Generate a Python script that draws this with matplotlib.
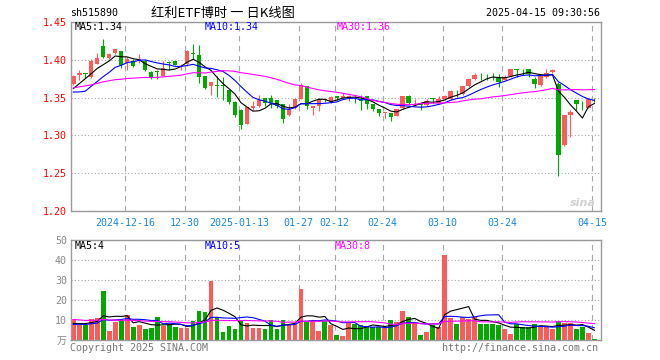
import numpy as np
import pandas as pd
import matplotlib
matplotlib.use('Agg')
import matplotlib.pyplot as plt

# trading days 2024-12-03 .. 2025-04-15, exchange holidays taken out
holidays = ['2025-01-01', '2025-01-28', '2025-01-29', '2025-01-30', '2025-01-31',
            '2025-02-03', '2025-02-04', '2025-04-04']
days = pd.bdate_range('2024-12-03', '2025-04-15')
days = days[~days.isin(pd.to_datetime(holidays))]

open_ = [1.368, 1.380, 1.383, 1.377, 1.395, 1.418, 1.403, 1.409, 1.412, 1.396,
         1.398, 1.398, 1.398, 1.384, 1.385, 1.3785, 1.3967, 1.399, 1.3925, 1.395,
         1.409, 1.4057, 1.379, 1.3653, 1.3665, 1.3665, 1.3596, 1.344, 1.333, 1.3145,
         1.3363, 1.3385, 1.350, 1.349, 1.347, 1.3412, 1.327, 1.3363, 1.3478, 1.3649,
         1.3363, 1.339, 1.348, 1.3442, 1.3517, 1.3496, 1.350, 1.350, 1.3474, 1.3517,
         1.3412, 1.3346, 1.330, 1.3298, 1.3258, 1.3363, 1.3517, 1.3408, 1.3434, 1.3399,
         1.3489, 1.3434, 1.3478, 1.3478, 1.3576, 1.3544, 1.3649, 1.3741, 1.3782, 1.3777,
         1.3777, 1.3759, 1.3737, 1.3781, 1.3873, 1.3853, 1.3873, 1.3741, 1.3671, 1.3772,
         1.3838, 1.3684, 1.2873, 1.3268, 1.3465, 1.3414, 1.3368, 1.3496]
high = [1.380, 1.387, 1.383, 1.401, 1.409, 1.427, 1.409, 1.4145, 1.412, 1.4035,
        1.401, 1.408, 1.3995, 1.385, 1.386, 1.399, 1.398, 1.399, 1.3945, 1.413,
        1.421, 1.419, 1.379, 1.3705, 1.379, 1.377, 1.3596, 1.346, 1.335, 1.3376,
        1.345, 1.354, 1.350, 1.353, 1.347, 1.3412, 1.342, 1.350, 1.3687, 1.3649,
        1.3385, 1.349, 1.348, 1.352, 1.3517, 1.356, 1.353, 1.352, 1.354, 1.3517,
        1.3412, 1.3346, 1.3315, 1.3298, 1.3355, 1.3517, 1.354, 1.3478, 1.3434, 1.3478,
        1.350, 1.3517, 1.353, 1.3597, 1.3605, 1.366, 1.375, 1.3829, 1.3825, 1.3816,
        1.3829, 1.3816, 1.3794, 1.3878, 1.3873, 1.3873, 1.3873, 1.3772, 1.3807, 1.3882,
        1.3882, 1.370, 1.3276, 1.3333, 1.3465, 1.3452, 1.3496, 1.3496]
low = [1.367, 1.373, 1.376, 1.376, 1.394, 1.402, 1.401, 1.408, 1.389, 1.386,
       1.391, 1.396, 1.3855, 1.374, 1.374, 1.3785, 1.386, 1.3925, 1.386, 1.392,
       1.401, 1.369, 1.362, 1.353, 1.351, 1.347, 1.342, 1.3245, 1.3085, 1.3145,
       1.3335, 1.3375, 1.3385, 1.336, 1.336, 1.3166, 1.326, 1.335, 1.3478, 1.3347,
       1.3276, 1.3325, 1.3445, 1.3435, 1.3465, 1.349, 1.345, 1.3425, 1.334, 1.3355,
       1.332, 1.326, 1.3227, 1.319, 1.325, 1.3355, 1.340, 1.340, 1.3334, 1.339,
       1.3434, 1.342, 1.347, 1.3465, 1.351, 1.353, 1.364, 1.373, 1.373, 1.373,
       1.373, 1.3645, 1.3728, 1.3776, 1.3772, 1.3803, 1.3772, 1.3627, 1.366, 1.3759,
       1.3829, 1.2469, 1.2864, 1.2982, 1.3333, 1.3333, 1.3364, 1.3443]
close = [1.379, 1.383, 1.381, 1.398, 1.402, 1.4035, 1.408, 1.414, 1.3925, 1.401,
         1.392, 1.401, 1.387, 1.376, 1.384, 1.389, 1.3963, 1.3935, 1.3935, 1.412,
         1.408, 1.377, 1.3626, 1.3705, 1.366, 1.366, 1.344, 1.3267, 1.3135, 1.3376,
         1.3385, 1.3465, 1.3434, 1.343, 1.339, 1.3214, 1.335, 1.3478, 1.3662, 1.339,
         1.3385, 1.3478, 1.347, 1.3508, 1.3496, 1.3517, 1.3517, 1.3495, 1.3452, 1.3412,
         1.3346, 1.3298, 1.3307, 1.3245, 1.3355, 1.3517, 1.3434, 1.3412, 1.3408, 1.3452,
         1.3487, 1.3478, 1.3522, 1.3588, 1.3570, 1.3649, 1.3741, 1.3794, 1.3780, 1.3773,
         1.3773, 1.3706, 1.377, 1.3873, 1.3868, 1.3849, 1.3816, 1.3684, 1.3803, 1.3829,
         1.3868, 1.2741, 1.3276, 1.3311, 1.3412, 1.3410, 1.3487, 1.3494]
# volume, 万
vol = [10.3, 7.5, 7.5, 10.3, 10.8, 24.5, 4.5, 9.2, 10, 12.5,
       6.7, 7.5, 5.5, 6.2, 11.5, 7.2, 8, 6.7, 5.8, 5.8,
       9.7, 14.7, 14.2, 29.7, 11.7, 4.2, 7, 5.5, 9.7, 8.7,
       6.2, 6.2, 5.3, 10, 5.7, 10, 7.8, 8, 25.5, 9.2,
       9.7, 4.7, 9.7, 7.5, 2.5, 2, 8.3, 8, 7.5, 7,
       6.7, 6.7, 5.8, 10, 9.2, 14.7, 11.7, 8.3, 2.5, 4.2,
       7.5, 6.7, 42.5, 11.2, 8, 11.3, 10.5, 11.3, 8, 8,
       8, 7.5, 5.5, 3, 7.8, 6.7, 6.7, 8, 6.7, 6.7,
       5.5, 9.7, 8.3, 8.3, 5.5, 6.7, 3.3, 0.5]

# sessions before the window, only used to seed the moving averages
prev_close = [1.340, 1.348, 1.352, 1.344, 1.3435, 1.362, 1.372, 1.375, 1.3715, 1.380,
              1.384, 1.376, 1.377, 1.379, 1.372, 1.370, 1.3758, 1.366, 1.361, 1.3615,
              1.382, 1.371, 1.333, 1.339, 1.339, 1.351, 1.348, 1.365, 1.367]
prev_vol = [12, 15, 10, 9, 13, 11, 14, 10, 12, 9,
            11, 13, 10, 12, 11, 9, 12, 10, 13, 12,
            7.0, 8.5, 6.5, 7.5, 7.0, 8.0, 7.6, 7.8, 7.8]

tick_days = ['2024-12-16', '2024-12-30', '2025-01-13', '2025-01-27', '2025-02-12',
             '2025-02-24', '2025-03-10', '2025-03-24', '2025-04-15']
tick_labels = ['2024-12-16', '12-30', '2025-01-13', '01-27', '02-12',
               '02-24', '03-10', '03-24', '04-15']

UP, DOWN = '#ff5a5a', '#00a800'
GRID = '#a8a8a8'
MONO = ['DejaVu Sans Mono', 'Noto Sans CJK SC']

n = len(close)
x = np.arange(n)
o, h, l, c = map(np.array, (open_, high, low, close))
col = np.where(c >= o, UP, DOWN)

allc = pd.Series(prev_close + close)
allv = pd.Series(prev_vol + vol)
ma = {k: allc.rolling(k).mean().values[-n:] for k in (5, 10, 30)}
vma = {k: allv.rolling(k).mean().values[-n:] for k in (5, 10, 30)}
ma_col = {5: 'black', 10: 'blue', 30: '#ff00ff'}

tick_x = [days.get_loc(pd.Timestamp(d)) - 0.35 for d in tick_days]

W, H = 660, 360
def box(left, top, right, bottom):
    return [left / W, 1 - bottom / H, (right - left) / W, (bottom - top) / H]

fig = plt.figure(figsize=(6.6, 3.6), dpi=100)
ax = fig.add_axes(box(71, 22, 601, 211))
axv = fig.add_axes(box(71, 240, 601, 340))

# price panel
ax.vlines(x, l, h, colors=col, lw=0.8)
ax.bar(x, np.maximum(np.abs(c - o), 0.0005), bottom=np.minimum(o, c),
       width=0.75, color=col, lw=0)
for k in (5, 10, 30):
    ax.plot(x, ma[k], color=ma_col[k], lw=0.8)
ax.set_ylim(1.20, 1.45)
ax.set_yticks([1.20, 1.25, 1.30, 1.35, 1.40, 1.45])
ax.set_yticklabels(['%.2f' % v for v in [1.20, 1.25, 1.30, 1.35, 1.40, 1.45]],
                   color='red', family=MONO, fontsize=7.2)
ax.set_xticks(tick_x)
ax.set_xticklabels(tick_labels, color='#1a88d8', family=MONO, fontsize=7.2)
ax.tick_params(axis='x', pad=5)

# volume panel
axv.bar(x, vol, width=0.8, color=col, lw=0)
for k in (5, 10, 30):
    axv.plot(x, vma[k], color=ma_col[k], lw=0.8)
axv.set_ylim(0, 50)
axv.set_yticks([0, 10, 20, 30, 40, 50])
axv.set_yticklabels(['万', '10', '20', '30', '40', '50'], color='#888888',
                    family=MONO, fontsize=7.2)
axv.set_xticks(tick_x)
axv.set_xticklabels([])

for a in (ax, axv):
    a.set_xlim(-0.38, 88.1)
    a.tick_params(length=0)
    a.tick_params(axis='y', pad=3)
    a.xaxis.grid(True, color=GRID, lw=0.8, linestyle=(0, (5, 4)))
    a.yaxis.grid(True, color=GRID, lw=0.8, linestyle=(0, (1, 2)))
    a.set_axisbelow(True)
    for s in a.spines.values():
        s.set_color('#999999')
        s.set_linewidth(1)

def ptext(px, py, s, **kw):
    kw.setdefault('family', MONO)
    kw.setdefault('fontsize', 7.2)
    fig.text(px / W, 1 - py / H, s, va='center', **kw)

ptext(70, 13, 'sh515890')
ptext(223, 13, '红利ETF博时 一 日K线图', ha='center', family=['Noto Sans CJK SC', 'DejaVu Sans'],
      fontsize=9.5)
ptext(600, 13, '2025-04-15 09:30:56', ha='right')
ptext(75, 27, 'MA5:1.34', color='black')
ptext(205, 27, 'MA10:1.34', color='blue')
ptext(337, 27, 'MA30:1.36', color='#ff00ff')
ptext(75, 246, 'MA5:4', color='black')
ptext(205, 246, 'MA10:5', color='blue')
ptext(335, 246, 'MA30:8', color='#ff00ff')
ptext(70, 348, 'Copyright 2025 SINA.COM', color='#777777')
ptext(598, 348, 'http://finance.sina.com.cn', ha='right', color='#777777')
ptext(583, 203, 'sina', ha='center', color='#d0d0d0', family='DejaVu Sans',
      fontsize=8, style='italic', weight='bold')

fig.savefig('out.png', dpi=100)
